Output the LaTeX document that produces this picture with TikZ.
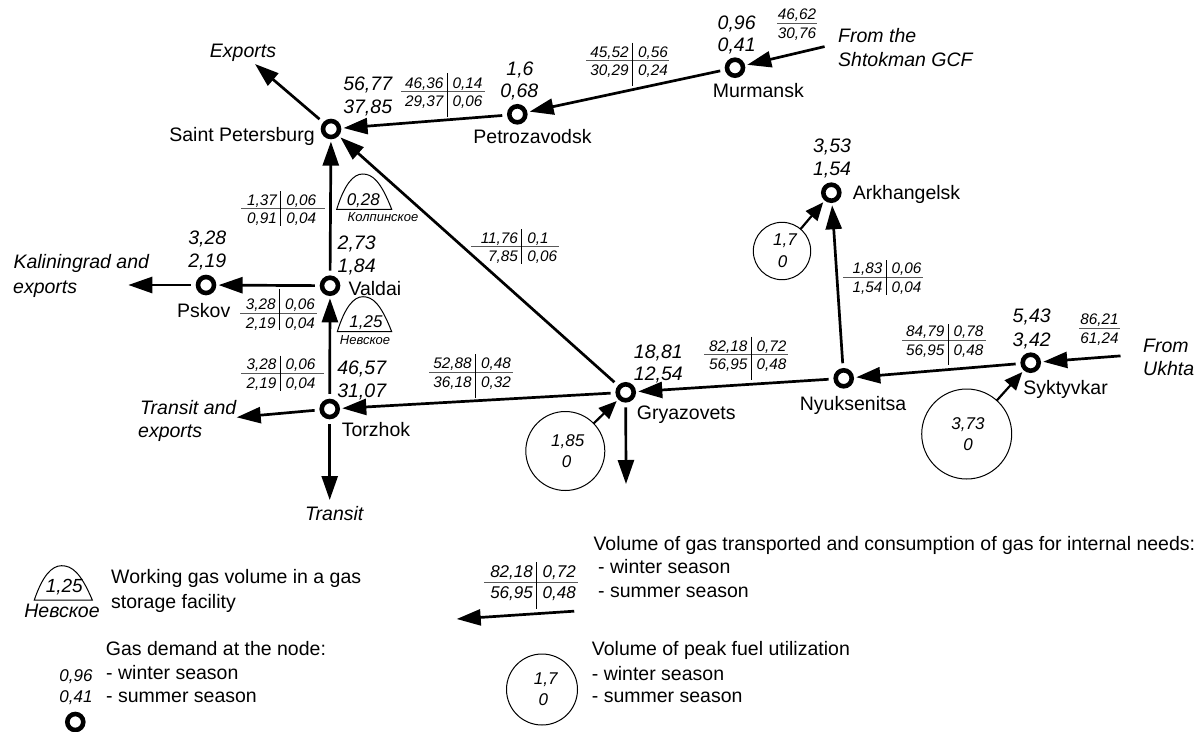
\documentclass[tikz,border=0pt]{standalone}
\usepackage{fontspec}
\setmainfont{Liberation Sans}
\usetikzlibrary{arrows.meta}
\tikzset{
 ring/.style={circle,draw=black,line width=4.6pt,minimum size=16pt,inner sep=0pt,outer sep=4.6pt},
 flowline/.style={line width=2.7pt,shorten <=2.5pt,-{Triangle[length=24pt,width=16pt]}},
 peakline/.style={line width=2.2pt,-{Triangle[length=18pt,width=15pt]}},
 peak/.style={circle,draw=black,line width=1pt,inner sep=0pt,outer sep=0pt},
 name label/.style={font=\fontsize{19.5}{22}\selectfont,inner sep=0pt,anchor=base,yshift=-7pt},
 num label/.style={font=\fontsize{19.5}{22}\selectfont\itshape,inner sep=0pt,anchor=base,yshift=-7pt},
 small num/.style={font=\fontsize{15.3}{17}\selectfont\itshape,inner sep=0pt,anchor=base,yshift=-5.5pt},
 mid num/.style={font=\fontsize{17}{19}\selectfont\itshape,inner sep=0pt,anchor=base,yshift=-6pt},
 tiny name/.style={font=\fontsize{13}{15}\selectfont\itshape,inner sep=0pt,anchor=base,yshift=-4.5pt},
 grayrule/.style={line width=1pt,draw=black!65},
 blackrule/.style={line width=1pt,draw=black},
}
% xl, xr, y, xv, ytop, ybottom
\newcommand{\flowrules}[6]{%
 \draw[grayrule] (#1,#3) -- (#2,#3);
 \draw[blackrule] (#4,#5) -- (#4,#6);
}
% id, xv, y upper row, y lower row, a, b, c, d
\newcommand{\flowtab}[8]{%
 \node[small num,anchor=base east] (#1a) at (#2-3.5,#3) {#5};
 \node[small num,anchor=base west] (#1b) at (#2+5.5,#3) {#6};
 \node[small num,anchor=base east] (#1c) at (#2-3.5,#4) {#7};
 \node[small num,anchor=base west] (#1d) at (#2+5.5,#4) {#8};
}
% id, xc, y rule, x half width, a, c, y upper, y lower
\newcommand{\flowhalf}[8]{%
 \draw[grayrule] (#2-#4,#3) -- (#2+#4,#3);
 \node[small num] (#1a) at (#2,#7) {#5};
 \node[small num] (#1c) at (#2,#8) {#6};
}
% left x, base y, width, height
\newcommand{\domeshape}[4]{%
 \draw[line width=1pt] (#1,#2) -- (#1+#3,#2) .. controls (#1+0.8*#3,#2-0.8*#4) and (#1+0.65*#3,#2-#4) .. (#1+0.47*#3,#2-#4) .. controls (#1+0.3*#3,#2-#4) and (#1+0.14*#3,#2-0.7*#4) .. cycle;
}
\begin{document}
\begin{tikzpicture}[x=1pt,y=-1pt]
\useasboundingbox (0,0) rectangle (1204,731);
% nodes
\node[ring] (spb) at (331,129) {};
\node[ring] (ptz) at (517.3,114.3) {};
\node[ring] (mur) at (735,67.7) {};
\node[ring] (ark) at (831.3,192.7) {};
\node[ring] (val) at (330,285.7) {};
\node[ring] (psk) at (206,285) {};
\node[ring] (tor) at (329.7,409) {};
\node[ring] (gry) at (625.7,392.3) {};
\node[ring] (nyu) at (843.7,378.3) {};
\node[ring] (syk) at (1030.7,362.7) {};
\node[ring] (legring) at (75.3,722) {};
% free ends
\coordinate (shtok) at (827,46);
\coordinate (exp) at (255,64);
\coordinate (kal) at (128.3,285);
\coordinate (trex) at (236.7,417.3);
\coordinate (tran) at (329.7,500);
\coordinate (gryout) at (626,484);
\coordinate (ukh) at (1123,355.7);
\coordinate (legs) at (576.7,611);
\coordinate (lege) at (456.7,619);
% peak circles
\node[peak,minimum size=57.4pt] (p1) at (782,251) {};
\node[peak,minimum size=79pt] (p2) at (565.3,451) {};
\node[peak,minimum size=90pt] (p3) at (966.7,434) {};
\node[peak,minimum size=71pt] (p4) at (542,689.5) {};
% connectors
\draw[flowline] (shtok) -- (mur);
\draw[flowline] (mur) -- (ptz);
\draw[flowline] (ptz) -- (spb);
\draw[flowline] (spb) -- (exp);
\draw[flowline] (val) -- (spb);
\draw[flowline] (gry) -- (spb);
\draw[flowline] (val) -- (psk);
\draw[flowline] (psk) -- (kal);
\draw[flowline] (tor) -- (val);
\draw[flowline] (tor) -- (trex);
\draw[flowline] (tor) -- (tran);
\draw[flowline] (gry) -- (tor);
\draw[flowline] (gry) -- (gryout);
\draw[flowline] (nyu) -- (gry);
\draw[flowline] (nyu) -- (ark);
\draw[flowline] (syk) -- (nyu);
\draw[flowline] (ukh) -- (syk);
\draw[flowline] (legs) -- (lege);
\draw[peakline] (p1) -- (ark);
\draw[peakline] (p2) -- (gry);
\draw[peakline] (p3) -- (syk);
% flow tables
\flowrules{241}{325}{208.7}{280.7}{191}{226}
\flowtab{t1}{280.7}{200}{218.3}{1,37}{0,06}{0,91}{0,04}
\flowrules{240}{316.7}{313.7}{279.3}{289.3}{330}
\flowtab{t2}{279.3}{304}{323.3}{3,28}{0,06}{2,19}{0,04}
\flowrules{241}{324}{373.3}{280}{355.7}{390.7}
\flowtab{t3}{280}{364}{382.7}{3,28}{0,06}{2,19}{0,04}
\flowrules{401}{485}{91.7}{447}{73}{117}
\flowtab{t4}{447}{82.7}{100.7}{46,36}{0,14}{29,37}{0,06}
\flowrules{586}{669.3}{60.7}{632.3}{42.7}{85.7}
\flowtab{t5}{632.3}{51.7}{70}{45,52}{0,56}{30,29}{0,24}
\flowrules{471}{559.3}{246.7}{521.7}{229.3}{264}
\flowtab{t6}{521.7}{237.7}{256}{11,76}{0,1}{7,85}{0,06}
\flowrules{429}{512.7}{372.7}{475.3}{354}{397.7}
\flowtab{t7}{475.3}{363.3}{381.7}{52,88}{0,48}{36,18}{0,32}
\flowrules{704}{788.3}{354.3}{751}{336.7}{380}
\flowtab{t8}{751}{345.7}{364}{82,18}{0,72}{56,95}{0,48}
\flowrules{902}{986}{340.7}{948}{324}{365}
\flowtab{t9}{948}{331}{350}{84,79}{0,78}{56,95}{0,48}
\flowrules{843}{923}{277.7}{886}{260}{295}
\flowtab{t10}{886}{267.7}{286.7}{1,83}{0,06}{1,54}{0,04}
\flowhalf{t11}{797}{23.7}{20}{46,62}{30,76}{14}{32.7}
\flowhalf{t12}{1099.5}{328.3}{20.5}{86,21}{61,24}{319}{337.7}
% legend table
\flowrules{484.3}{578.3}{582}{536.7}{562.3}{609}
\node[mid num,anchor=base east] (l1) at (533,571) {82,18};
\node[mid num,anchor=base west] (l2) at (542.5,571) {0,72};
\node[mid num,anchor=base east] (l3) at (533,592.3) {56,95};
\node[mid num,anchor=base west] (l4) at (542.5,592.3) {0,48};
% storage
\domeshape{336.7}{209.3}{55}{35.3}
\node[mid num] (d1) at (363.3,199) {0,28};
\node[tiny name] (d1n) at (383,217.3) {Колпинское};
\domeshape{337.3}{331.7}{54.4}{35}
\node[mid num] (d2) at (366,321) {1,25};
\node[tiny name] (d2n) at (365,340) {Невское};
\domeshape{34.3}{600}{58}{34.3}
\node[num label,font=\fontsize{19}{21}\selectfont\itshape] (d3) at (64.3,585) {1,25};
\node[num label] (d3n) at (62,610) {Невское};
% numeric labels
\node[num label] (n1) at (367.7,83) {56,77};
\node[num label] (n2) at (367.7,106) {37,85};
\node[num label] (n3) at (520,68.3) {1,6};
\node[num label] (n4) at (519.3,90.7) {0,68};
\node[num label] (n5) at (736.7,22.3) {0,96};
\node[num label] (n6) at (736.7,44.3) {0,41};
\node[num label] (n7) at (832,145.7) {3,53};
\node[num label] (n8) at (832,168) {1,54};
\node[num label] (n9) at (356.7,242.7) {2,73};
\node[num label] (n10) at (356.7,265) {1,84};
\node[num label] (n11) at (207.3,237.7) {3,28};
\node[num label] (n12) at (207.3,260.7) {2,19};
\node[num label] (n13) at (361.7,367.3) {46,57};
\node[num label] (n14) at (361.7,390) {31,07};
\node[num label] (n15) at (658.3,351.7) {18,81};
\node[num label] (n16) at (658.3,373.3) {12,54};
\node[num label] (n17) at (1031.7,315.7) {5,43};
\node[num label] (n18) at (1031.7,339) {3,42};
\node[mid num] (c1) at (785,239) {1,7};
\node[mid num] (c2) at (782.7,261.7) {0};
\node[mid num] (c3) at (567.7,440) {1,85};
\node[mid num] (c4) at (566.7,461.7) {0};
\node[mid num] (c5) at (968,423.3) {3,73};
\node[mid num] (c6) at (968,444) {0};
\node[mid num] (c7) at (545.7,678.3) {1,7};
\node[mid num] (c8) at (543.3,699.3) {0};
\node[mid num] (c9) at (76,675) {0,96};
\node[mid num] (c10) at (76,696.7) {0,41};
% italic destination labels
\node[num label] (e1) at (243,50) {Exports};
\node[num label,anchor=base west] (e2) at (838,35) {From the};
\node[num label,anchor=base west] (e3) at (838,59.3) {Shtokman GCF};
\node[num label,anchor=base west] (e4) at (13.3,261.7) {Kaliningrad and};
\node[num label,anchor=base west] (e5) at (13,286) {exports};
\node[num label,anchor=base west] (e6) at (140,407.7) {Transit and};
\node[num label,anchor=base west] (e7) at (138,430) {exports};
\node[num label] (e8) at (334.3,513.3) {Transit};
\node[num label,anchor=base west] (e9) at (1143,345) {From};
\node[num label,anchor=base west] (e10) at (1143,368) {Ukhta};
% node names
\node[name label] (s1) at (242,134.5) {Saint Petersburg};
\node[name label] (s2) at (532.5,136.7) {Petrozavodsk};
\node[name label] (s3) at (758.3,90) {Murmansk};
\node[name label,anchor=base west] (s4) at (852.7,192) {Arkhangelsk};
\node[name label,anchor=base west] (s5) at (348.3,288.3) {Valdai};
\node[name label] (s6) at (203.7,310) {Pskov};
\node[name label] (s7) at (376,429.3) {Torzhok};
\node[name label,anchor=base west] (s8) at (636.7,412.7) {Gryazovets};
\node[name label] (s9) at (853,403.3) {Nyuksenitsa};
\node[name label] (s10) at (1065.5,387.7) {Syktyvkar};
% legend text
\node[name label,anchor=base west] (k1) at (111,576.7) {Working gas volume in a gas};
\node[name label,anchor=base west] (k2) at (111,601) {storage facility};
\node[name label,anchor=base west] (k3) at (105.7,648.3) {Gas demand at the node:};
\node[name label,anchor=base west] (k4) at (106,672.7) {- winter season};
\node[name label,anchor=base west] (k5) at (106,695.7) {- summer season};
\node[name label,anchor=base west] (k6) at (593.3,543) {Volume of gas transported and consumption of gas for internal needs:};
\node[name label,anchor=base west] (k7) at (598,566.7) {- winter season};
\node[name label,anchor=base west] (k8) at (598,590) {- summer season};
\node[name label,anchor=base west] (k9) at (591.7,648) {Volume of peak fuel utilization};
\node[name label,anchor=base west] (k10) at (591.7,673.3) {- winter season};
\node[name label,anchor=base west] (k11) at (591.7,695.7) {- summer season};
\end{tikzpicture}
\end{document}
